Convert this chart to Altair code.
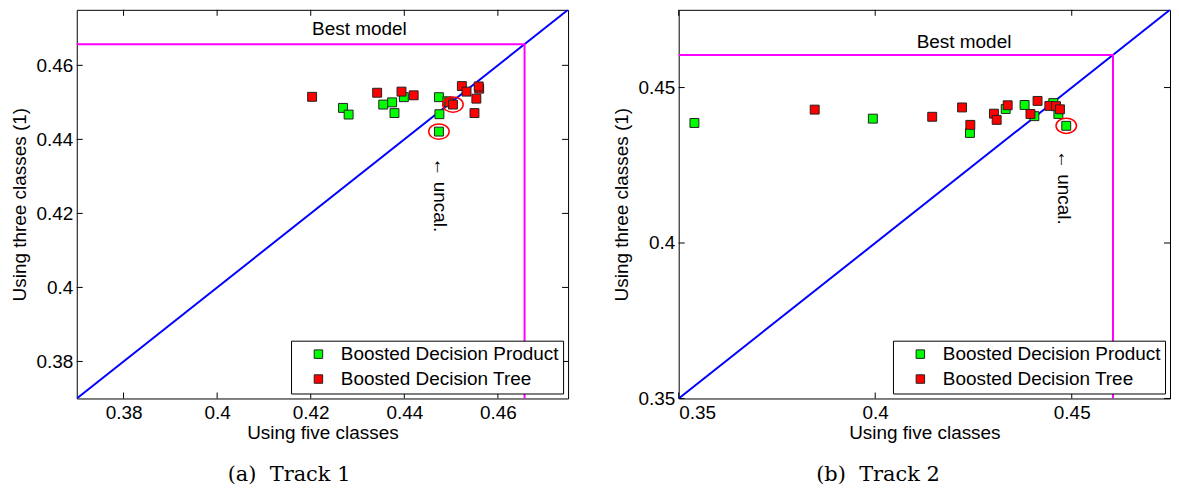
import altair as alt
import pandas as pd

# ---------------- data ----------------
MODELS = ["Boosted Decision Product", "Boosted Decision Tree"]
COLORS = ["#00ff00", "#ff0000"]

# Track 1
T1_DOMAIN = [0.37, 0.475]
T1_TICKS = [0.38, 0.40, 0.42, 0.44, 0.46]
T1_BEST = 0.4657
T1_DP_X = [0.4269, 0.4281, 0.4355, 0.4374, 0.4399, 0.4379, 0.4474, 0.4492, 0.4475, 0.4474]
T1_DP_Y = [0.4485, 0.4467, 0.4494, 0.4500, 0.4514, 0.4471, 0.4514, 0.4503, 0.4468, 0.4421]
T1_DT_X = [0.4203, 0.4342, 0.4394, 0.4420, 0.4523, 0.4533, 0.4560, 0.4559, 0.4554, 0.4550, 0.4496, 0.4504]
T1_DT_Y = [0.4515, 0.4526, 0.4529, 0.4519, 0.4544, 0.4529, 0.4537, 0.4543, 0.4510, 0.4471, 0.4500, 0.4494]
T1_CIRCLE_X = [0.4474, 0.4504]
T1_CIRCLE_Y = [0.4421, 0.4494]
T1_UNCAL = (0.4477, 0.4250)
T1_BESTLABEL = (0.4304, 0.4699)

# Track 2
T2_DOMAIN = [0.35, 0.475]
T2_TICKS = [0.35, 0.40, 0.45]
T2_BEST = 0.4605
T2_DP_X = [0.3540, 0.3994, 0.4241, 0.4332, 0.4380, 0.4405, 0.4453, 0.4466, 0.4486]
T2_DP_Y = [0.4386, 0.4400, 0.4354, 0.4431, 0.4444, 0.4408, 0.4450, 0.4415, 0.4377]
T2_DT_X = [0.3846, 0.4145, 0.4221, 0.4242, 0.4302, 0.4309, 0.4337, 0.4395, 0.4413, 0.4443, 0.4460, 0.4470]
T2_DT_Y = [0.4429, 0.4406, 0.4436, 0.4380, 0.4416, 0.4396, 0.4443, 0.4415, 0.4457, 0.4441, 0.4440, 0.4430]
T2_CIRCLE_X = [0.4486]
T2_CIRCLE_Y = [0.4377]
T2_UNCAL = (0.4479, 0.4179)
T2_BESTLABEL = (0.4226, 0.4647)

W, H = 493, 390
SANS = "Liberation Sans"
FS = 19
ELLIPSE = "M -1 0 A 1 0.75 0 1 1 1 0 A 1 0.75 0 1 1 -1 0 Z"


def panel(domain, ticks, best, dp_x, dp_y, dt_x, dt_y, cx, cy, uncal, bestlabel, caption, cap_x):
    xs = alt.Scale(domain=domain, nice=False, zero=False)
    ys = alt.Scale(domain=domain, nice=False, zero=False)
    xaxis = alt.Axis(values=ticks, format="~g", ticks=False, domain=False, grid=False,
                     labelPadding=5, titlePadding=1)
    yaxis = alt.Axis(values=ticks, format="~g", ticks=False, domain=False, grid=False,
                     labelPadding=4, titlePadding=6)

    def X(f):
        return alt.X(f"{f}:Q", scale=xs, axis=xaxis, title="Using five classes")

    def Y(f):
        return alt.Y(f"{f}:Q", scale=ys, axis=yaxis, title="Using three classes (1)")

    diag = alt.Chart(pd.DataFrame({"x": domain, "y": domain})).mark_line(
        color="#0000ff", strokeWidth=2, clip=True).encode(x=X("x"), y=Y("y"))

    lo = domain[0]
    mag = alt.Chart(pd.DataFrame({"x": [lo, best, best], "y": [best, best, lo], "o": [0, 1, 2]})).mark_line(
        color="#ff00ff", strokeWidth=2).encode(x=X("x"), y=Y("y"), order="o:Q")

    pts = pd.DataFrame({
        "x": dp_x + dt_x,
        "y": dp_y + dt_y,
        "model": [MODELS[0]] * len(dp_x) + [MODELS[1]] * len(dt_x),
    })
    scatter = alt.Chart(pts).mark_square(size=80, stroke="#222222", strokeWidth=1, opacity=1).encode(
        x=X("x"), y=Y("y"),
        fill=alt.Fill("model:N", scale=alt.Scale(domain=MODELS, range=COLORS),
                      legend=alt.Legend(orient="bottom-right", offset=5, title=None,
                                        labelFont=SANS, labelFontSize=FS, labelColor="black",
                                        symbolType="square", symbolSize=72,
                                        symbolStrokeColor="#222222", symbolStrokeWidth=1,
                                        fillColor="white", strokeColor="black",
                                        padding=4, rowPadding=5, symbolOffset=14,
                                        labelOffset=13, labelLimit=400, cornerRadius=0)),
    )

    circ = alt.Chart(pd.DataFrame({"x": cx, "y": cy})).mark_point(
        shape=ELLIPSE, size=420, color="#ff0000", filled=False, strokeWidth=1.5, opacity=1).encode(
        x=X("x"), y=Y("y"))

    txt_best = alt.Chart(pd.DataFrame({"x": [bestlabel[0]], "y": [bestlabel[1]], "t": ["Best model"]})).mark_text(
        font=SANS, fontSize=FS, color="black").encode(x=X("x"), y=Y("y"), text="t:N")

    txt_uncal = alt.Chart(pd.DataFrame({"x": [uncal[0]], "y": [uncal[1]], "t": ["\u2190 uncal."]})).mark_text(
        font=SANS, fontSize=FS, color="black", angle=90).encode(x=X("x"), y=Y("y"), text="t:N")

    tdf = pd.DataFrame({"t": ticks})
    tick_b = alt.Chart(tdf).mark_rule(color="black", strokeWidth=1).encode(
        x=X("t"), y=alt.value(H), y2=alt.value(H - 6))
    tick_t = alt.Chart(tdf).mark_rule(color="black", strokeWidth=1).encode(
        x=X("t"), y=alt.value(0), y2=alt.value(6))
    tick_l = alt.Chart(tdf).mark_rule(color="black", strokeWidth=1).encode(
        y=Y("t"), x=alt.value(0), x2=alt.value(6))
    tick_r = alt.Chart(tdf).mark_rule(color="black", strokeWidth=1).encode(
        y=Y("t"), x=alt.value(W), x2=alt.value(W - 6))

    cap = alt.Chart(pd.DataFrame({"t": [caption]})).mark_text(
        font="DejaVu Serif", fontSize=21, color="black", baseline="middle").encode(
        x=alt.value(cap_x), y=alt.value(467), text="t:N")

    return alt.layer(tick_b, tick_t, tick_l, tick_r, diag, mag, scatter, circ,
                     txt_best, txt_uncal, cap).properties(width=W, height=H)


p1 = panel(T1_DOMAIN, T1_TICKS, T1_BEST, T1_DP_X, T1_DP_Y, T1_DT_X, T1_DT_Y,
           T1_CIRCLE_X, T1_CIRCLE_Y, T1_UNCAL, T1_BESTLABEL, "(a)\u00a0\u00a0Track 1", 213)
p2 = panel(T2_DOMAIN, T2_TICKS, T2_BEST, T2_DP_X, T2_DP_Y, T2_DT_X, T2_DT_Y,
           T2_CIRCLE_X, T2_CIRCLE_Y, T2_UNCAL, T2_BESTLABEL, "(b)\u00a0\u00a0Track 2", 200)

chart = alt.hconcat(p1, p2, spacing=111, bounds="flush").resolve_scale(
    fill="independent").resolve_legend(fill="independent").properties(
    padding={"left": 2, "top": 0, "right": 0, "bottom": 0}, background="white"
).configure_view(stroke="black", strokeWidth=1).configure_axis(
    labelFont=SANS, labelFontSize=FS, labelColor="black",
    titleFont=SANS, titleFontSize=FS, titleColor="black", titleFontWeight="normal")

chart.save("out.html", embed_options={"renderer": "svg", "actions": False})
